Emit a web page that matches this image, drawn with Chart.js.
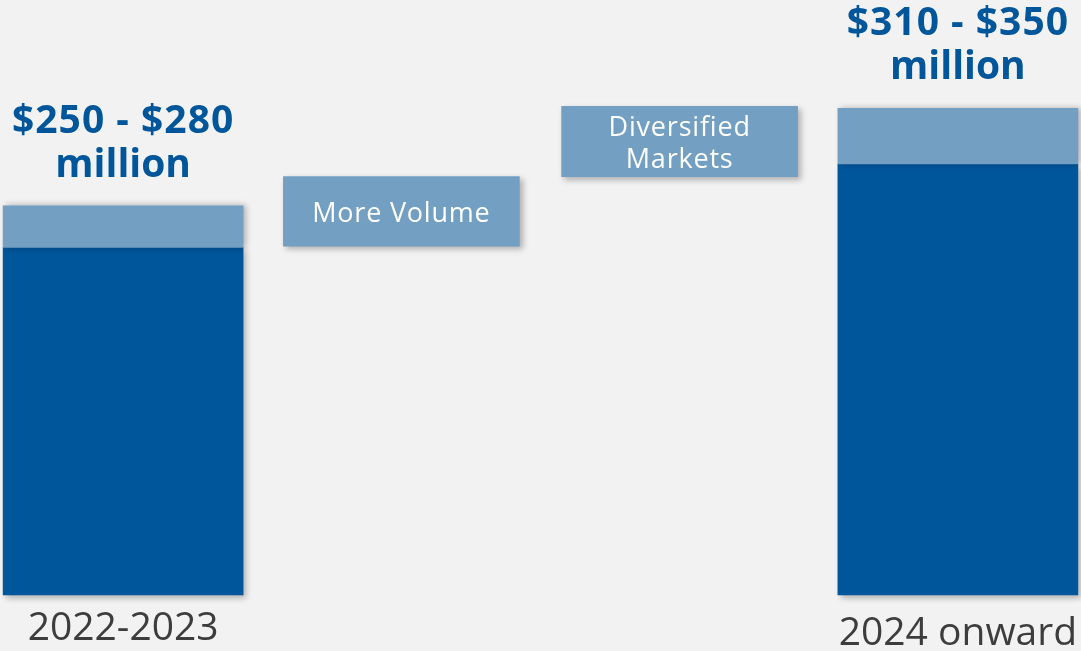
<!DOCTYPE html>
<html><head><meta charset="utf-8">
<script src="https://cdn.jsdelivr.net/npm/chart.js@4.4.1/dist/chart.umd.min.js"></script>
<style>
html,body{margin:0;padding:0;background:#f2f2f2;overflow:hidden;width:1081px;height:651px;}
#wrap{position:absolute;left:-16px;top:0;width:1113px;height:651px;}
</style></head><body>
<div id="wrap"><canvas id="c"></canvas></div>
<script>
// ---- data ----
const categories = ['2022-2023', 'More Volume', 'Diversified Markets', '2024 onward'];
const tickLabels = ['2022-2023', '', '', '2024 onward'];
const baseValues = [250, null, null, 310];        // firm part of the range (millions $)
const rangeHigh  = [280, null, null, 350];        // top of the range (millions $)
const driverLow  = [null, 251, 301, null];        // floating driver boxes
const driverHigh = [null, 301, 351.5, null];
const valueLabels = [['$250 - $280', 'million'], null, null, ['$310 - $350', 'million']];
const driverLabels = [null, ['More Volume'], ['Diversified', 'Markets'], null];

const DARK = '#00569b';
const LIGHT = '#739fc3';

const rangeData = categories.map((c, i) => rangeHigh[i] == null ? null : [baseValues[i], rangeHigh[i]]);
const driverData = categories.map((c, i) => driverLow[i] == null ? null : [driverLow[i], driverHigh[i]]);
const baseData = categories.map((c, i) => baseValues[i] == null ? null : [0, baseValues[i]]);

const shadowPlugin = {
  id: 'shadow',
  beforeDatasetDraw(chart, args) {
    const ctx = chart.ctx;
    ctx.save();
    ctx.shadowColor = 'rgba(0,0,0,0.28)';
    ctx.shadowBlur = 6;
    ctx.shadowOffsetX = 3;
    ctx.shadowOffsetY = args.index === 0 ? 0 : 3;
  },
  afterDatasetDraw(chart) { chart.ctx.restore(); }
};

const textPlugin = {
  id: 'texts',
  afterDatasetsDraw(chart) {
    const ctx = chart.ctx;
    ctx.save();
    ctx.textAlign = 'center';
    ctx.textBaseline = 'alphabetic';
    // value labels above the outer bars
    const m0 = chart.getDatasetMeta(0);
    m0.data.forEach((el, i) => {
      const lines = valueLabels[i];
      if (!lines || rangeData[i] == null) return;
      const top = Math.min(el.y, el.base);
      ctx.fillStyle = DARK;
      ctx.font = '700 39px "Open Sans"';
      ctx.letterSpacing = '1px';
      ctx.fillText(lines[0], el.x, top - 73);
      ctx.letterSpacing = '0px';
      ctx.fillText(lines[1], el.x, top - 29);
    });
    // driver labels inside floating boxes
    const m1 = chart.getDatasetMeta(1);
    m1.data.forEach((el, i) => {
      const lines = driverLabels[i];
      if (!lines || driverData[i] == null) return;
      const cy = (el.y + el.base) / 2;
      const fs = 27, lh = 32, capH = fs * 0.714;
      ctx.fillStyle = '#ffffff';
      ctx.font = '400 ' + fs + 'px "Open Sans"';
      ctx.letterSpacing = '0.8px';
      lines.forEach((t, k) => {
        ctx.fillText(t, el.x, cy + capH / 2 + 1 + (k - (lines.length - 1) / 2) * lh);
      });
    });
    ctx.restore();
  }
};

new Chart(document.getElementById('c'), {
  type: 'bar',
  data: {
    labels: tickLabels,
    datasets: [
      { label: 'Range', data: rangeData, backgroundColor: LIGHT, barThickness: 240, grouped: false, clip: false },
      { label: 'Drivers', data: driverData, backgroundColor: LIGHT, barThickness: 236, grouped: false, clip: false },
      { label: 'Base', data: baseData, backgroundColor: DARK, barThickness: 240, grouped: false, clip: false }
    ]
  },
  options: {
    responsive: true,
    maintainAspectRatio: false,
    animation: false,
    layout: { padding: 0 },
    plugins: { legend: { display: false }, tooltip: { enabled: false } },
    scales: {
      x: {
        grid: { display: false, drawTicks: false },
        border: { display: false },
        ticks: {
          autoSkip: false, maxRotation: 0, minRotation: 0, padding: 10,
          color: '#3d3d3d',
          font: (ctx) => ({ family: 'Open Sans', size: 39, weight: '400', lineHeight: ctx.index === 3 ? 1.477 : 1.241 })
        },
        afterFit(scale) { scale.height = 56; }
      },
      y: { display: false, min: 0, max: 428 }
    }
  },
  plugins: [shadowPlugin, textPlugin]
});
</script>
</body></html>
